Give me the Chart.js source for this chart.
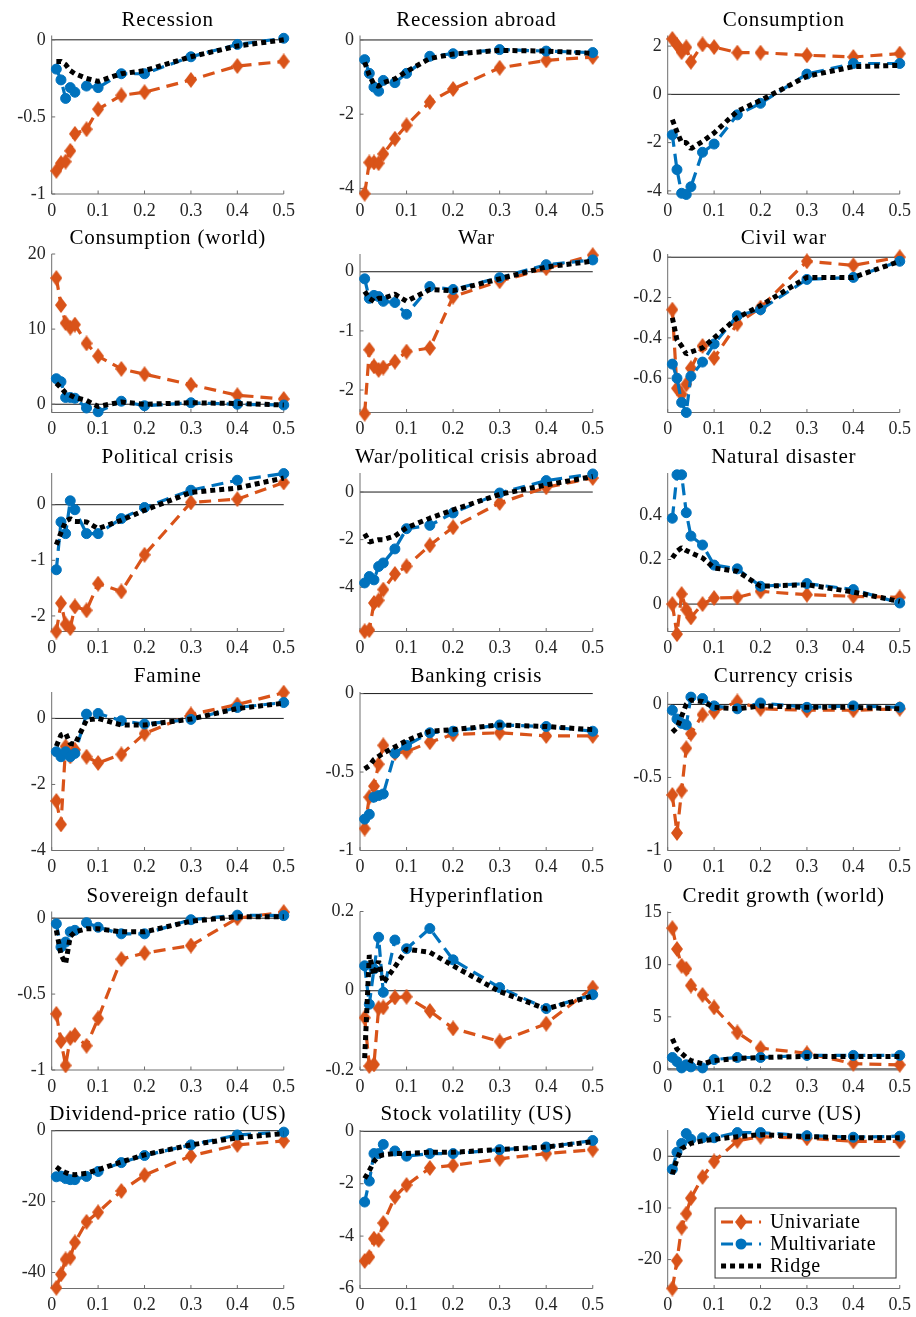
<!DOCTYPE html>
<html>
<head>
<meta charset="utf-8">
<script src="https://cdn.jsdelivr.net/npm/chart.js@4.4.1/dist/chart.umd.min.js"></script>
<style>
  html, body { margin: 0; padding: 0; background: #ffffff; }
  #fig { position: relative; width: 916px; height: 1317px; overflow: hidden; background: #ffffff; }
  #fig canvas { position: absolute; }
</style>
</head>
<body>
<div id="fig"></div>
<script>
// Threshold grid shared by every panel
const X = [0.01, 0.02, 0.03, 0.04, 0.05, 0.075, 0.1, 0.15, 0.2, 0.3, 0.4, 0.5];
const X_TICKS = [0, 0.1, 0.2, 0.3, 0.4, 0.5];

const TITLES = [
  'Recession', 'Recession abroad', 'Consumption',
  'Consumption (world)', 'War', 'Civil war',
  'Political crisis', 'War/political crisis abroad', 'Natural disaster',
  'Famine', 'Banking crisis', 'Currency crisis',
  'Sovereign default', 'Hyperinflation', 'Credit growth (world)',
  'Dividend-price ratio (US)', 'Stock volatility (US)', 'Yield curve (US)'
];

const SERIES_NAMES = ['Univariate', 'Multivariate', 'Ridge'];

const UNIVARIATE = [
  [-0.85, -0.80, -0.79, -0.72, -0.61, -0.58, -0.45, -0.36, -0.34, -0.26, -0.17, -0.14],
  [-4.14, -3.30, -3.30, -3.32, -3.07, -2.66, -2.30, -1.67, -1.32, -0.75, -0.55, -0.46],
  [2.30, 2.05, 1.75, 1.95, 1.35, 2.07, 1.96, 1.73, 1.73, 1.62, 1.55, 1.69],
  [16.8, 13.2, 10.8, 10.2, 10.6, 8.1, 6.4, 4.7, 4.0, 2.6, 1.2, 0.7],
  [-2.40, -1.32, -1.60, -1.66, -1.62, -1.52, -1.35, -1.29, -0.42, -0.16, 0.06, 0.28],
  [-0.26, -0.65, -0.68, -0.63, -0.55, -0.44, -0.50, -0.33, -0.25, -0.02, -0.04, 0.00],
  [-2.28, -1.77, -2.15, -2.22, -1.83, -1.90, -1.42, -1.56, -0.90, 0.04, 0.10, 0.40],
  [-5.85, -5.80, -4.66, -4.55, -4.10, -3.44, -3.12, -2.24, -1.48, -0.46, 0.20, 0.59],
  [0.000, -0.135, 0.045, -0.025, -0.060, 0.000, 0.027, 0.030, 0.057, 0.042, 0.035, 0.030],
  [-2.50, -3.21, -0.85, -1.15, -0.95, -1.16, -1.35, -1.09, -0.46, 0.12, 0.42, 0.78],
  [-0.86, -0.66, -0.59, -0.45, -0.33, -0.38, -0.37, -0.31, -0.26, -0.25, -0.27, -0.27],
  [-0.62, -0.88, -0.59, -0.30, -0.20, -0.07, -0.05, 0.02, -0.03, -0.04, -0.04, -0.03],
  [-0.63, -0.81, -0.97, -0.79, -0.77, -0.84, -0.66, -0.27, -0.23, -0.18, 0.00, 0.04],
  [-0.068, -0.190, -0.186, -0.044, -0.042, -0.017, -0.015, -0.051, -0.095, -0.128, -0.083, 0.008],
  [13.5, 11.5, 9.9, 9.6, 8.0, 7.1, 5.9, 3.5, 2.0, 1.5, 0.5, 0.4],
  [-44.3, -40.5, -36.3, -35.8, -31.5, -25.7, -23.0, -17.0, -12.5, -7.1, -4.0, -2.9],
  [-4.95, -4.80, -4.10, -4.15, -3.50, -2.50, -2.05, -1.40, -1.30, -1.05, -0.85, -0.70],
  [-25.6, -20.2, -13.8, -11.1, -8.1, -4.0, -1.0, 3.0, 3.8, 3.5, 2.9, 2.9]
];

const MULTIVARIATE = [
  [-0.19, -0.26, -0.38, -0.31, -0.34, -0.30, -0.31, -0.22, -0.22, -0.11, -0.03, 0.01],
  [-0.53, -0.90, -1.27, -1.38, -1.09, -1.15, -0.90, -0.44, -0.37, -0.26, -0.30, -0.34],
  [-1.68, -3.12, -4.10, -4.15, -3.83, -2.40, -2.06, -0.85, -0.37, 0.84, 1.28, 1.28],
  [3.4, 3.0, 0.9, 0.9, 0.8, -0.5, -1.0, 0.4, -0.2, 0.2, 0.0, -0.1],
  [-0.12, -0.45, -0.40, -0.42, -0.50, -0.52, -0.72, -0.25, -0.30, -0.10, 0.12, 0.20],
  [-0.53, -0.60, -0.72, -0.77, -0.59, -0.52, -0.43, -0.29, -0.26, -0.11, -0.10, -0.02],
  [-1.17, -0.31, -0.52, 0.07, -0.09, -0.52, -0.52, -0.25, -0.05, 0.26, 0.44, 0.56],
  [-3.82, -3.55, -3.69, -3.13, -2.98, -2.39, -1.54, -1.40, -0.88, -0.04, 0.48, 0.76],
  [0.385, 0.580, 0.580, 0.410, 0.305, 0.265, 0.175, 0.158, 0.080, 0.092, 0.065, 0.005],
  [-1.01, -1.16, -1.01, -1.16, -1.06, 0.13, 0.15, -0.07, -0.17, -0.03, 0.33, 0.48],
  [-0.80, -0.77, -0.66, -0.65, -0.64, -0.38, -0.33, -0.25, -0.24, -0.20, -0.21, -0.24],
  [-0.04, -0.10, -0.13, -0.14, 0.05, 0.04, -0.01, -0.03, 0.01, -0.02, -0.01, -0.02],
  [-0.037, -0.190, -0.157, -0.090, -0.080, -0.030, -0.060, -0.103, -0.103, -0.010, 0.020, 0.017],
  [0.063, -0.034, 0.055, 0.135, -0.004, 0.128, 0.106, 0.157, 0.078, 0.008, -0.045, -0.010],
  [1.1, 0.7, 0.1, 0.4, 0.2, 0.1, 0.9, 1.1, 1.1, 1.3, 1.3, 1.3],
  [-13.0, -12.8, -13.5, -13.8, -13.8, -12.9, -11.5, -9.0, -7.0, -4.0, -1.2, -0.4],
  [-2.70, -1.90, -0.85, -0.85, -0.50, -0.75, -0.95, -0.85, -0.85, -0.70, -0.60, -0.35],
  [-2.5, 0.8, 2.5, 4.4, 3.3, 3.6, 3.6, 4.6, 4.6, 4.0, 3.7, 3.9]
];

const RIDGE = [
  [-0.14, -0.14, -0.16, -0.20, -0.22, -0.25, -0.27, -0.22, -0.20, -0.11, -0.04, 0.00],
  [-0.60, -0.95, -1.20, -1.25, -1.15, -1.05, -0.85, -0.50, -0.38, -0.28, -0.30, -0.36],
  [-1.05, -1.55, -2.00, -2.00, -2.25, -1.95, -1.60, -0.70, -0.25, 0.75, 1.15, 1.20],
  [2.8, 2.2, 1.5, 1.2, 0.9, 0.5, -0.3, 0.3, 0.0, 0.2, 0.1, -0.1],
  [-0.33, -0.45, -0.50, -0.45, -0.45, -0.38, -0.50, -0.30, -0.32, -0.12, 0.08, 0.18],
  [-0.30, -0.41, -0.44, -0.48, -0.47, -0.45, -0.40, -0.30, -0.24, -0.10, -0.10, -0.02],
  [-0.72, -0.50, -0.30, -0.25, -0.30, -0.31, -0.43, -0.28, -0.10, 0.22, 0.30, 0.48],
  [-1.75, -2.10, -2.05, -2.00, -2.00, -1.85, -1.50, -1.10, -0.75, -0.10, 0.30, 0.65],
  [0.207, 0.237, 0.253, 0.240, 0.230, 0.207, 0.162, 0.147, 0.080, 0.087, 0.054, 0.012],
  [-0.84, -0.50, -0.45, -0.76, -0.78, -0.05, 0.00, -0.20, -0.20, -0.02, 0.30, 0.46],
  [-0.48, -0.46, -0.42, -0.40, -0.38, -0.34, -0.30, -0.24, -0.23, -0.20, -0.21, -0.23],
  [-0.19, -0.16, -0.08, 0.00, 0.03, 0.02, -0.02, -0.03, -0.01, -0.02, -0.02, -0.03],
  [-0.08, -0.24, -0.30, -0.12, -0.09, -0.07, -0.07, -0.09, -0.09, -0.02, 0.01, 0.01],
  [-0.170, 0.090, 0.040, 0.075, 0.020, 0.060, 0.105, 0.097, 0.063, -0.002, -0.046, -0.013],
  [2.9, 1.9, 1.5, 1.1, 0.8, 0.5, 0.8, 1.0, 1.1, 1.2, 1.2, 1.2],
  [-10.2, -11.2, -11.8, -12.3, -12.4, -12.0, -11.0, -8.8, -6.8, -4.0, -2.0, -0.8],
  [-1.80, -1.50, -1.15, -0.95, -0.90, -0.85, -0.85, -0.80, -0.80, -0.70, -0.60, -0.40],
  [-3.5, -0.5, 1.5, 2.0, 2.5, 3.0, 3.3, 3.8, 4.2, 3.8, 3.6, 3.6]
];

// Vertical limits [min, max] of each panel
const Y_RANGE = [
  [-1, 0.028], [-4.15, 0.12], [-4.13, 2.44],
  [-1.1, 20], [-2.38, 0.3], [-0.77, 0.016],
  [-2.28, 0.57], [-5.86, 0.8], [-0.123, 0.588],
  [-4, 0.8], [-1, 0.01], [-1, 0.085],
  [-1, 0.044], [-0.2, 0.2], [-0.1, 15.1],
  [-44.5, 0.2], [-6, 0.05], [-25.6, 5.1]
];

const Y_TICKS = [
  [-1, -0.5, 0], [-4, -2, 0], [-4, -2, 0, 2],
  [0, 10, 20], [-2, -1, 0], [-0.6, -0.4, -0.2, 0],
  [-2, -1, 0], [-4, -2, 0], [0, 0.2, 0.4],
  [-4, -2, 0], [-1, -0.5, 0], [-1, -0.5, 0],
  [-1, -0.5, 0], [-0.2, 0, 0.2], [0, 5, 10, 15],
  [-40, -20, 0], [-6, -4, -2, 0], [-20, -10, 0]
];

// ---- styling and grid geometry ----
const ORANGE = '#D95319';
const BLUE = '#0072BD';
const BLACK = '#000000';
const FONT = "'Liberation Serif', 'DejaVu Serif', serif";
const TICK_COLOR = '#262626';
const AXIS_COLOR = '#6e6e6e';

const PLOT_LEFT = [51.7, 360, 667.7];
const PLOT_TOP = [35.5, 254, 473, 692, 911.5, 1130];
const PLOT_W = 233.3;
const PLOT_H = 158.5;
const Y_AXIS_W = 46;
const X_AXIS_H = 24;
const CANVAS_W = 302;
const CANVAS_H = 220;

// Tall filled diamond used as the Univariate marker
function makeDiamond(color, w, h) {
  const c = document.createElement('canvas');
  c.width = w;
  c.height = h;
  const g = c.getContext('2d');
  g.fillStyle = color;
  g.beginPath();
  g.moveTo(w / 2, 0);
  g.lineTo(w, h / 2);
  g.lineTo(w / 2, h);
  g.lineTo(0, h / 2);
  g.closePath();
  g.fill();
  return c;
}
const DIAMOND = makeDiamond(ORANGE, 12, 16);

function fmt(v) {
  const r = Math.round(v * 1000) / 1000;
  return r === 0 ? '0' : String(r);
}

function strokeLine(ctx, x1, y1, x2, y2) {
  ctx.beginPath();
  ctx.moveTo(x1, y1);
  ctx.lineTo(x2, y2);
  ctx.stroke();
}

function spacedText(ctx, text, x, y, spacing) {
  ctx.letterSpacing = spacing + 'px';
  ctx.fillText(text, x, y);
  ctx.letterSpacing = '0px';
}

// Axes lines, inward tick marks, zero reference line and the panel title
const panelDecor = {
  id: 'panelDecor',
  beforeDatasetsDraw(chart) {
    const { ctx, chartArea: a, scales: { x, y } } = chart;
    ctx.save();
    ctx.setLineDash([]);
    if (y.min < 0 && y.max > 0) {
      const y0 = y.getPixelForValue(0);
      ctx.strokeStyle = '#1a1a1a';
      ctx.lineWidth = 1;
      strokeLine(ctx, a.left, y0, a.right, y0);
    }
    ctx.strokeStyle = AXIS_COLOR;
    ctx.lineWidth = 1;
    strokeLine(ctx, a.left, a.top, a.left, a.bottom);
    strokeLine(ctx, a.left, a.bottom, a.right, a.bottom);
    X_TICKS.forEach(v => {
      const px = x.getPixelForValue(v);
      strokeLine(ctx, px, a.bottom, px, a.bottom - 3.5);
    });
    y.ticks.forEach(t => {
      const py = y.getPixelForValue(t.value);
      strokeLine(ctx, a.left, py, a.left + 3.5, py);
    });
    ctx.restore();
  },
  afterDraw(chart, args, opts) {
    const { ctx, chartArea: a } = chart;
    ctx.save();
    ctx.font = '21px ' + FONT;
    ctx.fillStyle = '#000000';
    ctx.textAlign = 'center';
    ctx.textBaseline = 'alphabetic';
    spacedText(ctx, opts.title, (a.left + a.right) / 2, a.top - 10, 0.8);
    ctx.restore();
  }
};

// Boxed legend drawn inside the plot area of the last panel
const boxLegend = {
  id: 'boxLegend',
  afterDatasetsDraw(chart, args, opts) {
    if (!opts.show) return;
    const { ctx, chartArea: a } = chart;
    const w = 181, h = 70;
    const right = a.right - 3.7, bottom = a.bottom - 10.5;
    const left = right - w, top = bottom - h;
    ctx.save();
    ctx.fillStyle = '#ffffff';
    ctx.fillRect(left, top, w, h);
    ctx.strokeStyle = '#333333';
    ctx.lineWidth = 1;
    ctx.strokeRect(left, top, w, h);
    chart.data.datasets.forEach((ds, i) => {
      const cy = top + 14 + i * 22;
      const mx = left + 26;
      ctx.save();
      ctx.strokeStyle = ds.borderColor;
      ctx.lineWidth = ds.borderWidth;
      ctx.setLineDash(ds.borderDash);
      ctx.lineCap = 'butt';
      strokeLine(ctx, left + 6, cy, left + 46, cy);
      ctx.restore();
      if (ds.pointRadius > 0) {
        if (ds.pointStyle === 'circle') {
          ctx.fillStyle = ds.borderColor;
          ctx.beginPath();
          ctx.arc(mx, cy, ds.pointRadius + 0.5, 0, Math.PI * 2);
          ctx.fill();
        } else {
          ctx.drawImage(ds.pointStyle, mx - ds.pointStyle.width / 2, cy - ds.pointStyle.height / 2);
        }
      }
      ctx.fillStyle = '#000000';
      ctx.font = '20px ' + FONT;
      ctx.textAlign = 'left';
      ctx.textBaseline = 'middle';
      spacedText(ctx, ds.label, left + 55, cy + 1, 0.6);
    });
    ctx.restore();
  }
};

const fig = document.getElementById('fig');

TITLES.forEach((title, p) => {
  const r = Math.floor(p / 3), c = p % 3;
  const pl = PLOT_LEFT[c], pt = PLOT_TOP[r];
  const left = Math.floor(pl) - 52;
  const top = Math.floor(pt) - 34;

  const cv = document.createElement('canvas');
  cv.width = CANVAS_W;
  cv.height = CANVAS_H;
  cv.style.left = left + 'px';
  cv.style.top = top + 'px';
  cv.style.width = CANVAS_W + 'px';
  cv.style.height = CANVAS_H + 'px';
  fig.appendChild(cv);

  const pad = {
    left: pl - left - Y_AXIS_W,
    top: pt - top,
    right: CANVAS_W - (pl - left) - PLOT_W,
    bottom: CANVAS_H - (pt - top) - PLOT_H - X_AXIS_H
  };

  const points = arr => X.map((x, i) => ({ x: x, y: arr[i] }));

  new Chart(cv, {
    type: 'line',
    data: {
      datasets: [
        {
          label: SERIES_NAMES[0], data: points(UNIVARIATE[p]),
          borderColor: ORANGE, backgroundColor: ORANGE,
          borderWidth: 3.2, borderDash: [12, 7], borderJoinStyle: 'bevel',
          pointStyle: DIAMOND, pointRadius: 7,
          tension: 0, clip: false, order: 3
        },
        {
          label: SERIES_NAMES[1], data: points(MULTIVARIATE[p]),
          borderColor: BLUE, backgroundColor: BLUE,
          borderWidth: 3.2, borderDash: [12, 7], borderJoinStyle: 'bevel',
          pointStyle: 'circle', pointRadius: 5,
          pointBackgroundColor: BLUE, pointBorderColor: BLUE, pointBorderWidth: 1,
          tension: 0, clip: false, order: 2
        },
        {
          label: SERIES_NAMES[2], data: points(RIDGE[p]),
          borderColor: BLACK, backgroundColor: BLACK,
          borderWidth: 5, borderDash: [5, 4], borderJoinStyle: 'bevel',
          pointStyle: false, pointRadius: 0,
          tension: 0, clip: false, order: 1
        }
      ]
    },
    options: {
      responsive: false,
      animation: false,
      devicePixelRatio: 1,
      events: [],
      layout: { padding: pad },
      plugins: {
        legend: { display: false },
        tooltip: { enabled: false },
        title: { display: false },
        panelDecor: { title: title },
        boxLegend: { show: p === TITLES.length - 1 }
      },
      scales: {
        x: {
          type: 'linear', min: 0, max: 0.5,
          grid: { display: false, drawTicks: false },
          border: { display: false },
          afterBuildTicks: s => { s.ticks = X_TICKS.map(v => ({ value: v })); },
          afterFit: s => { s.height = X_AXIS_H; },
          ticks: {
            autoSkip: false, maxRotation: 0, padding: 6,
            color: TICK_COLOR, font: { family: FONT, size: 18 },
            callback: v => fmt(v)
          }
        },
        y: {
          type: 'linear', min: Y_RANGE[p][0], max: Y_RANGE[p][1],
          grid: { display: false, drawTicks: false },
          border: { display: false },
          afterBuildTicks: s => { s.ticks = Y_TICKS[p].map(v => ({ value: v })); },
          afterFit: s => { s.width = Y_AXIS_W; },
          ticks: {
            autoSkip: false, padding: 6,
            color: TICK_COLOR, font: { family: FONT, size: 18 },
            callback: v => fmt(v)
          }
        }
      }
    },
    plugins: [panelDecor, boxLegend]
  });
});
</script>
</body>
</html>
